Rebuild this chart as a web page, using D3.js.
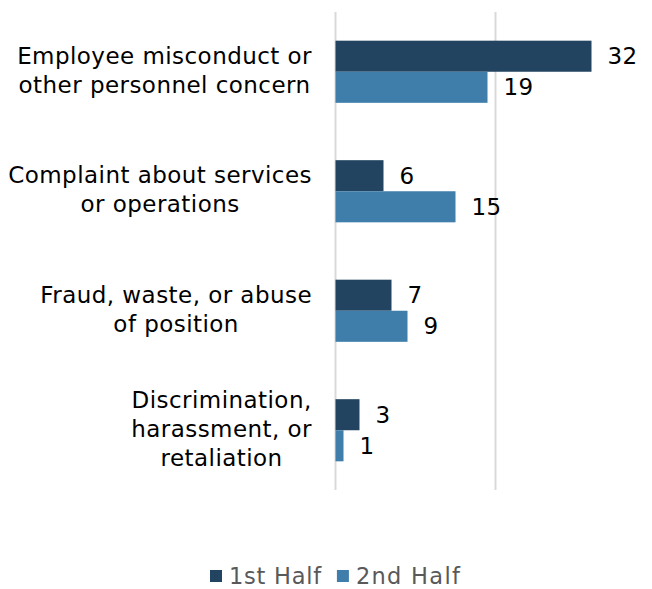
<!DOCTYPE html>
<html><head><meta charset="utf-8">
<script src="https://cdn.jsdelivr.net/npm/d3@7"></script>
<style>body{margin:0;background:#fff}svg{display:block}</style>
</head><body>
<script>
const categories = [
  ["Employee misconduct or", "other personnel concern"],
  ["Complaint about services", "or operations"],
  ["Fraud, waste, or abuse", "of position"],
  ["Discrimination,", "harassment, or", "retaliation"]
];
const seriesNames = ["1st Half", "2nd Half"];
const firstHalf = [32, 6, 7, 3];
const secondHalf = [19, 15, 9, 1];
const gridTicks = [0, 20, 40];
const colors = ["#234461", "#3f7dab"];

const W = 652, H = 589;
const font = "'DejaVu Sans', Verdana, sans-serif";
const fs = 23, ls = 0.45;
const svg = d3.select("body").append("svg").attr("width", W).attr("height", H);

const keys = categories.map(c => c.join(" "));
const x = d3.scaleLinear().domain([0, 40]).range([335.5, 655.5]);
const y = d3.scaleBand().domain(keys).range([12, 490]).paddingInner(0.48).paddingOuter(0.24);
const y1 = d3.scaleBand().domain(seriesNames).range([0, y.bandwidth()]);

svg.append("g").selectAll("line").data(gridTicks).join("line")
  .attr("x1", d => x(d)).attr("x2", d => x(d))
  .attr("y1", 12).attr("y2", 490)
  .attr("stroke", "#d9d9d9").attr("stroke-width", 2);

const series = [firstHalf, secondHalf];
series.forEach((vals, si) => {
  const g = svg.append("g");
  g.selectAll("rect").data(vals).join("rect")
    .attr("x", x(0)).attr("y", (d, i) => y(keys[i]) + y1(seriesNames[si]))
    .attr("width", d => x(d) - x(0)).attr("height", y1.bandwidth())
    .attr("fill", colors[si]);
  g.selectAll("text").data(vals).join("text")
    .attr("x", d => x(d) + 16)
    .attr("y", (d, i) => y(keys[i]) + y1(seriesNames[si]) + y1.bandwidth() / 2)
    .attr("dy", "0.35em")
    .attr("font-family", font).attr("font-size", fs).attr("letter-spacing", ls).attr("fill", "#000")
    .text(d => d);
});

// category labels: block of centered lines, block right-aligned
const lh = 29;
categories.forEach((lines, i) => {
  const g = svg.append("g");
  const texts = lines.map((ln, j) => g.append("text")
    .attr("font-family", font).attr("font-size", fs).attr("letter-spacing", ls).attr("fill", "#000")
    .attr("text-anchor", "middle")
    .attr("y", y(keys[i]) + y.bandwidth() / 2 - 1.5 + (j - (lines.length - 1) / 2) * lh)
    .attr("dy", "0.35em").text(ln));
  const maxW = d3.max(texts, t => t.node().getComputedTextLength());
  texts.forEach(t => t.attr("x", 312 - maxW / 2));
});

// legend
const leg = svg.append("g");
let lx = 210;
seriesNames.forEach((n, i) => {
  leg.append("rect").attr("x", lx).attr("y", 570).attr("width", 12).attr("height", 12).attr("fill", colors[i]);
  const t = leg.append("text").attr("x", lx + 19).attr("y", 584)
    .attr("font-family", font).attr("font-size", 22.5).attr("letter-spacing", i === 0 ? 0.75 : 1.3)
    .attr("fill", "#595959").text(n);
  lx += 19 + t.node().getComputedTextLength() + 15;
});
</script>
</body></html>
